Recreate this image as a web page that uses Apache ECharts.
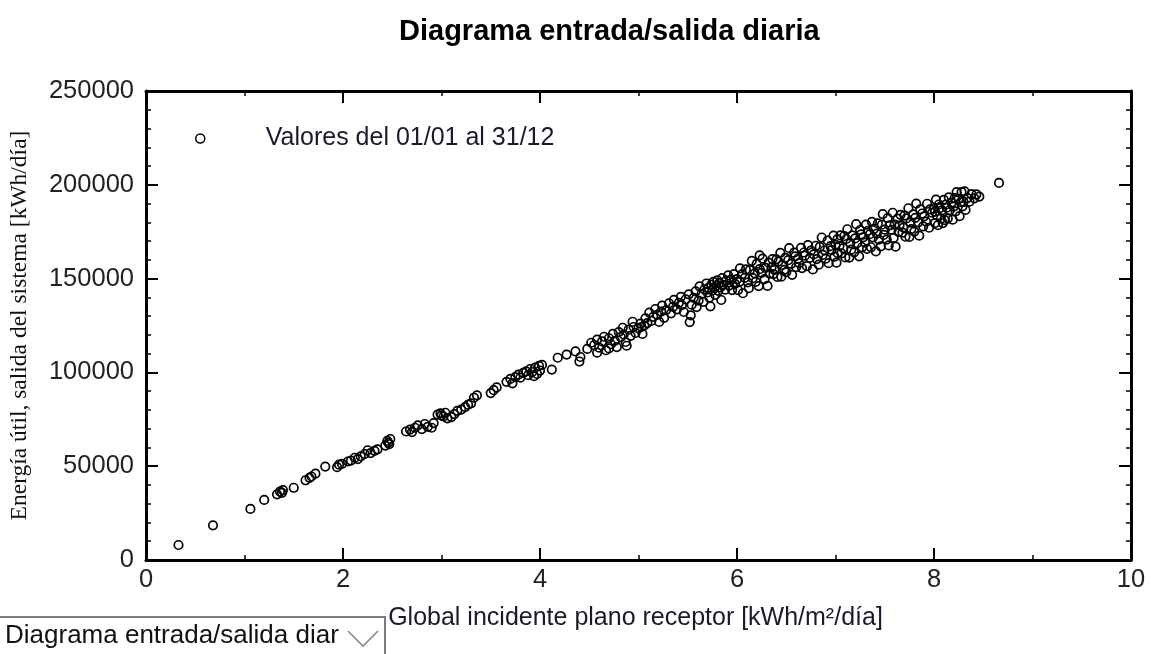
<!DOCTYPE html>
<html>
<head>
<meta charset="utf-8">
<title>Diagrama entrada/salida diaria</title>
<script src="https://cdn.jsdelivr.net/npm/echarts@6/dist/echarts.min.js"></script>
<style>
  html, body { margin: 0; padding: 0; background: #fff; }
  #chart { width: 1151px; height: 654px; }
</style>
</head>
<body>
<div id="chart"></div>
<script>
// Daily pairs: [global irradiance on the collector plane (kWh/m²/día), useful energy (kWh/día)]
const lowDays = [
  [0.33,8000],[0.68,18500],[1.06,27200],[1.20,32000],[1.33,35000],[1.36,36500],[1.39,37200],[1.38,35800],
  [1.50,38500],[1.62,42500],[1.66,43800],[1.72,46000],[1.68,44500],[1.82,49800],[1.94,49500],[1.96,50800],
  [1.99,51200],[2.05,52500],[2.08,53000],[2.12,54500],[2.15,53800],[2.18,55200],[2.22,56500],[2.25,58500],
  [2.28,57000],[2.32,58200],[2.35,59000],[2.43,61000],[2.45,63500],[2.46,62500],[2.48,64500],[2.47,61800],
  [2.64,68500],[2.68,69500],[2.70,68200],[2.73,70500],[2.76,71800],[2.80,69800],[2.83,72500],[2.86,71000],
  [2.90,70500],[2.92,73000],[2.96,77500],[2.99,78200],[3.00,77000]
];
const midDays = [
  [3.02,76500],[3.04,78500],[3.06,75500],[3.10,76200],[3.13,77800],[3.16,79500],[3.20,80200],[3.24,81500],
  [3.27,82800],[3.30,83500],[3.33,86500],[3.36,87800],[3.50,89000],[3.53,90500],[3.56,92000],[3.66,95000],
  [3.70,96500],[3.72,94200],[3.75,97500],[3.78,98800],[3.80,97200],[3.83,99800],[3.86,100500],[3.88,98500],
  [3.90,101800],[3.92,100200],[3.95,102500],[3.97,99200],[3.99,103500],[4.00,101000],[4.02,104000],[3.94,98000],
  [4.12,101500],[4.18,107800],[4.27,109500],[4.36,111200],[4.40,105800],[4.41,108200],[4.48,112500],[4.52,115800],
  [4.55,114500],[4.58,117500],[4.60,113200],[4.63,116500],[4.65,119000],[4.67,111800],[4.70,118200],[4.72,115000],
  [4.74,120500],[4.76,116800],[4.78,113500],[4.80,121500],[4.82,118800],[4.85,120200],[4.87,116200],[4.90,122800],
  [4.92,119500],[4.95,124200],[4.97,121000],[5.00,123500],[5.02,126000],[5.04,120500],[4.88,114200],[4.70,112800],
  [4.58,110500],[4.84,123800],[5.06,125000],[4.94,127000],
  [5.03,124200],[5.07,128800],[5.09,126300],[5.11,131900],[5.13,127400],[5.15,129600],[5.17,133800],[5.19,130700],
  [5.21,126900],[5.23,132400],[5.24,135600],[5.26,129100],[5.28,133200],[5.31,136800],[5.33,131500],[5.35,134900],
  [5.36,138700],[5.39,133600],[5.41,137100],[5.43,140300],[5.44,135800],[5.46,132200],[5.48,138900],[5.51,141600],
  [5.52,126800],[5.53,130400],[5.54,136100],[5.56,139700],[5.58,143200],[5.59,134800],[5.61,138300],[5.62,145900],
  [5.64,141800],[5.66,137600],[5.67,144300],[5.69,147400],[5.70,142600],[5.71,145100],[5.72,139900],[5.73,135200],
  [5.74,146800],[5.75,143700],[5.76,148300],[5.77,144900],[5.78,141300],[5.79,146200],[5.80,149100],[5.81,143500],
  [5.82,147600],[5.83,145300],[5.84,138600],[5.85,150200],[5.86,146700],[5.88,144100],[5.89,148900],[5.91,151700],
  [5.92,146300],[5.94,149500],[5.95,143900],[5.97,152400],[5.98,147200]
];
const highDays = [
  [6.00,149700],[6.01,143900],[6.03,155400],[6.03,148400],[6.05,152300],[6.06,142200],[6.08,150400],[6.09,154900],
  [6.11,148000],[6.12,144900],[6.13,154500],[6.15,159500],[6.16,150200],[6.18,152800],[6.19,148300],[6.20,157900],
  [6.22,146000],[6.23,155000],[6.23,162400],[6.25,153100],[6.26,160600],[6.28,149700],[6.29,155700],[6.31,146100],
  [6.32,158500],[6.33,152600],[6.35,155800],[6.36,160400],[6.37,152400],[6.38,154700],[6.40,160300],[6.41,150900],
  [6.42,159100],[6.44,163700],[6.45,151000],[6.46,157300],[6.48,154700],[6.49,161100],[6.50,153500],[6.52,159800],
  [6.53,166200],[6.55,157900],[6.56,152000],[6.58,163800],[6.59,161800],[6.60,156100],[6.62,160700],[6.63,158300],
  [6.65,166400],[6.66,155600],[6.68,163900],[6.69,162200],[6.71,156600],[6.72,167800],[6.74,161100],[6.75,164900],
  [6.77,154900],[6.78,162900],[6.80,167500],[6.81,160400],[6.83,157400],[6.84,166900],[6.86,171900],[6.87,162600],
  [6.89,165100],[6.90,160600],[6.92,170300],[6.93,158200],[6.95,167300],[6.96,165200],[6.98,172900],[6.99,161700],
  [7.00,168000],[7.01,158500],[7.02,171000],[7.02,163700],[7.04,167400],[7.05,173000],[7.06,163400],[7.08,166200],
  [7.09,172700],[7.10,161300],[7.11,171100],[7.12,176300],[7.14,161200],[7.15,168800],[7.16,165400],[7.17,173000],
  [7.19,164000],[7.20,171400],[7.21,179000],[7.22,168900],[7.24,161900],[7.25,175900],[7.26,173600],[7.27,166700],
  [7.28,172000],[7.30,169200],[7.31,178800],[7.32,165800],[7.33,175500],[7.35,173700],[7.36,166700],[7.37,180200],
  [7.38,172000],[7.39,176500],[7.41,164500],[7.42,174000],[7.43,179400],[7.44,170800],[7.46,167200],[7.47,178700],
  [7.48,184400],[7.49,173300],[7.50,176100],[7.52,170800],[7.53,182300],[7.54,167700],[7.55,178400],[7.57,176000],
  [7.58,185100],[7.59,171700],[7.60,178800],[7.61,167000],[7.63,182000],[7.64,174900],[7.65,178400],[7.66,184000],
  [7.68,174500],[7.69,177200],[7.70,183600],[7.71,172300],[7.72,182100],[7.74,187500],[7.75,172200],[7.76,179800],
  [7.77,176400],[7.79,184200],[7.80,175000],[7.81,182400],[7.82,190000],[7.84,180000],[7.85,172900],[7.86,186900],
  [7.88,184700],[7.89,177800],[7.90,183200],[7.92,180400],[7.93,189900],[7.95,177100],[7.96,186900],[7.98,185100],
  [8.00,187300],[8.01,179600],[8.01,185700],[8.02,192100],[8.03,183700],[8.04,178500],[8.05,189500],[8.06,187600],
  [8.07,181900],[8.08,186400],[8.09,179600],[8.10,192000],[8.11,181200],[8.12,189400],[8.13,187800],[8.14,182000],
  [8.15,193300],[8.16,186500],[8.18,190500],[8.19,181400],[8.20,188400],[8.21,192900],[8.22,185800],[8.23,196100],
  [8.25,192500],[8.26,183300],[8.27,190700],[8.28,196100],[8.29,188500],[8.30,190900],[8.31,196500],[8.32,186600],
  [8.34,192900],[8.36,191000],[8.38,195000],[8.41,192800],[8.43,194900],[8.46,193700],[8.66,201000]
];

const titleText = 'Diagrama entrada/salida diaria';
const seriesName = 'Valores del 01/01 al 31/12';
const xName = 'Global incidente plano receptor [kWh/m²/día]';
const yName = 'Energía útil, salida del sistema [kWh/día]';
const selectorText = 'Diagrama entrada/salida diar';

const days = lowDays.concat(midDays, highDays);

const sans = '"Liberation Sans", Arial, sans-serif';
const serif = '"Liberation Serif", "Times New Roman", serif';

const frameLine = { show: true, onZero: false, lineStyle: { color: '#000', width: 3 } };
const majorTick = { show: true, inside: true, length: 12, lineStyle: { color: '#000', width: 2 } };

function frameAxis(extra) {
  return Object.assign({
    type: 'value',
    axisLine: frameLine,
    axisTick: majorTick,
    splitLine: { show: false }
  }, extra);
}

const chart = echarts.init(document.getElementById('chart'), null, { renderer: 'canvas' });

chart.setOption({
  animation: false,
  backgroundColor: '#fff',
  textStyle: { fontFamily: sans },
  title: {
    text: titleText,
    left: 394,
    top: 12,
    textStyle: { fontFamily: sans, fontSize: 29, fontWeight: 'bold', color: '#000' }
  },
  grid: { left: 144, right: 20, top: 91, bottom: 94, show: false },
  legend: {
    left: 190,
    top: 121,
    itemWidth: 9,
    itemHeight: 9,
    icon: 'circle',
    itemStyle: { color: 'rgba(0,0,0,0)', borderColor: '#000', borderWidth: 1.5 },
    textStyle: { fontFamily: sans, fontSize: 25, color: '#1a1a2a', padding: [0, 0, 0, 56] },
    data: [seriesName]
  },
  xAxis: [
    frameAxis({
      position: 'bottom',
      min: 0, max: 10, interval: 2,
      minorTick: { show: true, splitNumber: 2, length: 5, lineStyle: { color: '#000', width: 1.5 } },
      axisLabel: { fontFamily: sans, fontSize: 25.5, color: '#222', margin: 7 },
      name: xName,
      nameLocation: 'middle',
      nameGap: 46,
      nameTextStyle: { fontFamily: sans, fontSize: 25, color: '#1a1a2a', verticalAlign: 'top', padding: [0, 6, 0, 0] }
    }),
    frameAxis({
      position: 'top',
      min: 0, max: 10, interval: 2,
      minorTick: { show: true, splitNumber: 2, length: 5, lineStyle: { color: '#000', width: 1.5 } },
      axisLabel: { show: false }
    })
  ],
  yAxis: [
    frameAxis({
      position: 'left',
      min: 0, max: 250000, interval: 50000,
      minorTick: { show: true, splitNumber: 5, length: 5, lineStyle: { color: '#000', width: 1.5 } },
      axisLabel: { fontFamily: sans, fontSize: 25.5, color: '#222', margin: 12, formatter: v => String(v) },
      name: yName,
      nameLocation: 'middle',
      nameGap: 114,
      nameTextStyle: { fontFamily: serif, fontSize: 23.5, color: '#111' }
    }),
    frameAxis({
      position: 'right',
      min: 0, max: 250000, interval: 50000,
      minorTick: { show: true, splitNumber: 5, length: 5, lineStyle: { color: '#000', width: 1.5 } },
      axisLabel: { show: false }
    })
  ],
  series: [{
    name: seriesName,
    type: 'scatter',
    xAxisIndex: 0,
    yAxisIndex: 0,
    symbol: 'circle',
    symbolSize: 8.5,
    itemStyle: { color: 'rgba(0,0,0,0)', borderColor: '#000', borderWidth: 1.7, opacity: 1 },
    emphasis: { disabled: true },
    data: days
  }],
  graphic: [{
    type: 'group',
    x: 0,
    y: 617,
    children: [
      { type: 'rect', shape: { x: -4, y: 0, width: 389, height: 44 },
        style: { fill: '#fff', stroke: '#7a7a7a', lineWidth: 2 } },
      { type: 'text', x: 5, y: 19,
        style: { text: selectorText, font: '26px ' + sans, fill: '#111', verticalAlign: 'middle' } },
      { type: 'polyline', shape: { points: [[348, 14], [363, 29], [378, 14]] },
        style: { stroke: '#8a8a8a', lineWidth: 1.6, fill: null } }
    ]
  }]
});
</script>
</body>
</html>
